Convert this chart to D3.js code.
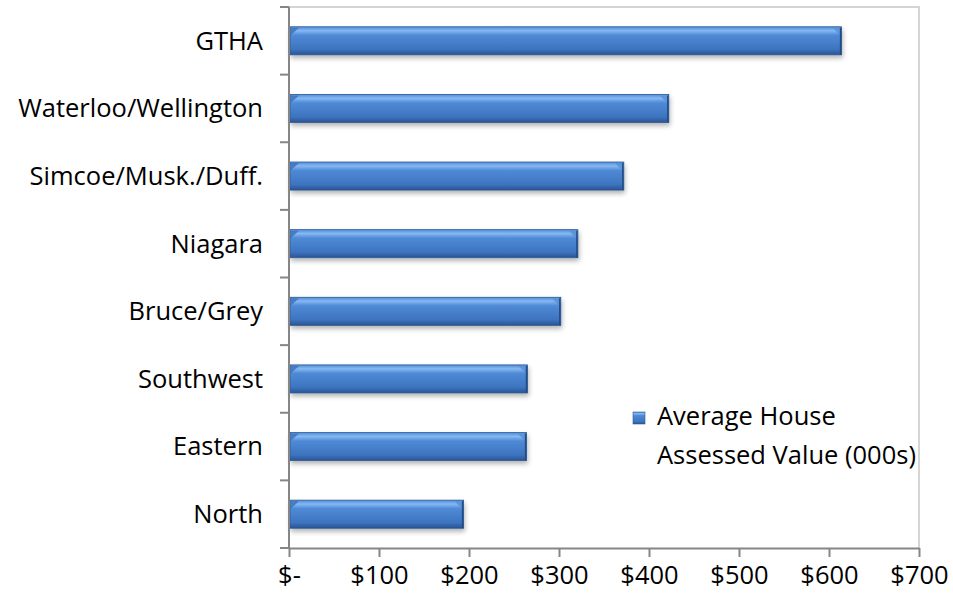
<!DOCTYPE html>
<html lang="en">
<head>
<meta charset="UTF-8">
<title>Average House Assessed Value</title>
<script src="https://cdn.jsdelivr.net/npm/d3@7"></script>
<style>
  body { margin: 0; background: #fff; }
  text { font-family: "Open Sans", Lato, sans-serif; fill: #000; }
</style>
</head>
<body>
<script>
// data
var regions = ["GTHA", "Waterloo/Wellington", "Simcoe/Musk./Duff.", "Niagara",
               "Bruce/Grey", "Southwest", "Eastern", "North"];
var values = [614, 422, 372, 321, 302, 265, 264, 194];
var tickValues = [0, 100, 200, 300, 400, 500, 600, 700];
var tickLabels = ["$-", "$100", "$200", "$300", "$400", "$500", "$600", "$700"];
var seriesName = ["Average House", "Assessed Value (000s)"];

var width = 953, height = 601;
var margin = { top: 7, right: 34, bottom: 53, left: 289 };
var fontSize = "25.5px";

var svg = d3.select("body").append("svg")
    .attr("width", width).attr("height", height);

var defs = svg.append("defs");
var grad = defs.append("linearGradient").attr("id", "barGrad")
    .attr("x1", 0).attr("y1", 0).attr("x2", 0).attr("y2", 1);
grad.append("stop").attr("offset", "0%").attr("stop-color", "#4f8ddc");
grad.append("stop").attr("offset", "14%").attr("stop-color", "#86b8f2");
grad.append("stop").attr("offset", "30%").attr("stop-color", "#4f8ad6");
grad.append("stop").attr("offset", "80%").attr("stop-color", "#3d74bf");
grad.append("stop").attr("offset", "100%").attr("stop-color", "#2a5391");

var shadow = defs.append("filter").attr("id", "shadow")
    .attr("x", "-5%").attr("y", "-20%").attr("width", "110%").attr("height", "160%");
shadow.append("feGaussianBlur").attr("in", "SourceAlpha").attr("stdDeviation", 2.5);
shadow.append("feOffset").attr("dx", 1).attr("dy", 3).attr("result", "blur");
shadow.append("feComponentTransfer").append("feFuncA").attr("type", "linear").attr("slope", 0.3);
var merge = shadow.append("feMerge");
merge.append("feMergeNode");
merge.append("feMergeNode").attr("in", "SourceGraphic");

var x = d3.scaleLinear().domain([0, 700])
    .range([margin.left, width - margin.right]);
var y = d3.scaleBand().domain(regions)
    .range([margin.top, height - margin.bottom])
    .paddingInner(0.585).paddingOuter(0.2925);

// frame (top and right)
svg.append("path")
    .attr("d", "M" + x(0) + "," + margin.top + "H" + x(700) + "V" + (height - margin.bottom))
    .attr("fill", "none").attr("stroke", "#c8c8c8").attr("stroke-width", 1.5);

// bars
var bars = svg.append("g").selectAll("g").data(regions).enter().append("g");
bars.append("rect")
    .attr("x", x(0) + 1)
    .attr("y", function(d) { return y(d); })
    .attr("width", function(d, i) { return x(values[i]) - x(0) - 1; })
    .attr("height", y.bandwidth())
    .attr("fill", "url(#barGrad)")
    .attr("stroke", "#2d5a94").attr("stroke-width", 0.8)
    .attr("filter", "url(#shadow)");
// soft bevel at both ends
bars.append("path")
    .attr("d", function(d, i) {
        var x1 = x(values[i]), y0 = y(d);
        return "M" + (x1 - 9) + "," + (y0 + 1) + "L" + (x1 - 1) + "," + (y0 + 1) +
               "L" + (x1 - 1) + "," + (y0 + 9) + "Z";
    })
    .attr("fill", "#5a92d8").attr("opacity", 0.9);
bars.append("path")
    .attr("d", function(d) {
        var x0 = x(0) + 1, y0 = y(d);
        return "M" + x0 + "," + (y0 + 1) + "L" + (x0 + 9) + "," + (y0 + 1) +
               "L" + x0 + "," + (y0 + 9) + "Z";
    })
    .attr("fill", "#3a70b8").attr("opacity", 0.8);
bars.append("line")
    .attr("x1", function(d, i) { return x(values[i]) - 1; })
    .attr("x2", function(d, i) { return x(values[i]) - 1; })
    .attr("y1", function(d) { return y(d) + 1; })
    .attr("y2", function(d) { return y(d) + y.bandwidth(); })
    .attr("stroke", "#244c84").attr("stroke-width", 1.5);

// x axis
var xAxis = svg.append("g")
    .attr("transform", "translate(0," + (height - margin.bottom) + ")")
    .call(d3.axisBottom(x).tickValues(tickValues)
        .tickFormat(function(d, i) { return tickLabels[i]; })
        .tickSize(9).tickPadding(9).tickSizeOuter(0));
xAxis.select(".domain").attr("stroke", "#868686").attr("stroke-width", 2);
xAxis.selectAll(".tick line").attr("stroke", "#868686").attr("stroke-width", 2);
xAxis.selectAll("text").style("font-size", fontSize).attr("fill", "#000");

// y axis: labels centered in bands, ticks at band boundaries
var yAxis = svg.append("g").attr("transform", "translate(" + x(0) + ",0)");
yAxis.append("line")
    .attr("x1", 0).attr("x2", 0)
    .attr("y1", margin.top).attr("y2", height - margin.bottom)
    .attr("stroke", "#868686").attr("stroke-width", 2);
var step = y.step();
var bounds = d3.range(regions.length + 1).map(function(i) { return margin.top + i * step; });
yAxis.selectAll(".yt").data(bounds).enter().append("line")
    .attr("x1", -9).attr("x2", 0)
    .attr("y1", function(d) { return d; }).attr("y2", function(d) { return d; })
    .attr("stroke", "#868686").attr("stroke-width", 2);
yAxis.selectAll(".yl").data(regions).enter().append("text")
    .attr("x", -26)
    .attr("y", function(d) { return y(d) + y.bandwidth() / 2; })
    .attr("dy", "0.35em")
    .attr("text-anchor", "end")
    .style("font-size", fontSize)
    .text(function(d) { return d; });

// legend
var legend = svg.append("g").attr("transform", "translate(633,412)");
legend.append("rect").attr("width", 12).attr("height", 12)
    .attr("fill", "url(#barGrad)").attr("stroke", "#2d5a94").attr("stroke-width", 0.6);
legend.selectAll("text").data(seriesName).enter().append("text")
    .attr("x", 24)
    .attr("y", function(d, i) { return 13 + i * 39; })
    .style("font-size", fontSize)
    .text(function(d) { return d; });
</script>
</body>
</html>
